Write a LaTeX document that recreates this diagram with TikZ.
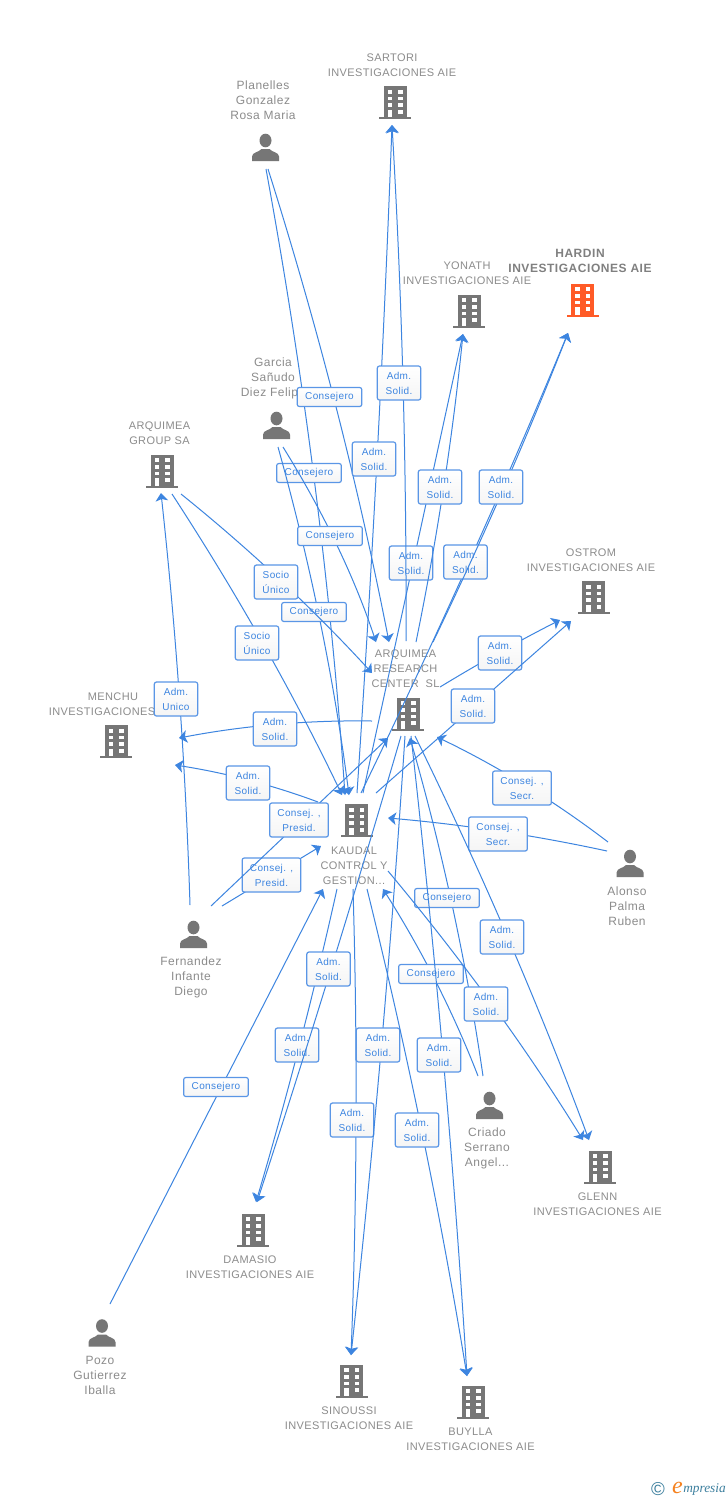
\documentclass[tikz,border=0pt]{standalone}
\usepackage{fontspec}
\usetikzlibrary{arrows.meta,calc}
\setmainfont{Liberation Sans}
\newfontfamily\entfont[LetterSpace=3.5]{Liberation Sans}
\newfontfamily\perfont[LetterSpace=4]{Liberation Sans}
\newfontfamily\boxfont[LetterSpace=3.8]{Liberation Sans}
\newfontfamily\hotfont[LetterSpace=4.5]{Liberation Sans Bold}
\newfontfamily\logofont{Liberation Serif Italic}
\definecolor{iconGrey}{HTML}{767676}
\definecolor{iconHot}{HTML}{FF5B27}
\definecolor{txtGrey}{HTML}{8C8C8C}
\definecolor{hotGrey}{HTML}{808080}
\definecolor{linkBlue}{HTML}{3D85E0}
\definecolor{boxBlue}{HTML}{5A96E6}
\definecolor{logoTeal}{HTML}{3C7F9E}
\definecolor{logoOrange}{HTML}{F58220}
\tikzset{
  conn/.style={draw=linkBlue,line width=0.75pt,-{Stealth[length=6pt,width=9.5pt,inset=1.5pt]}},
  tagbox/.style={draw=boxBlue,line width=0.9pt,rounded corners=1.6pt,top color=white,bottom color=black!4,
     text=linkBlue,inner sep=0pt,align=center,font=\boxfont\fontsize{7.5}{11.25}\selectfont},
  adm/.style={tagbox,minimum width=32.5pt,minimum height=25.5pt},
  cons/.style={tagbox,minimum width=48.5pt,minimum height=14.2pt},
  secr/.style={tagbox,minimum width=44pt,minimum height=25.5pt},
  entlabel/.style={text=txtGrey,inner sep=0pt,align=center,font=\entfont\fontsize{8.25}{11.25}\selectfont},
  hotlabel/.style={text=hotGrey,inner sep=0pt,align=center,font=\hotfont\fontsize{9}{11.25}\selectfont},
  perlabel/.style={text=txtGrey,inner sep=0pt,align=center,font=\perfont\fontsize{9}{11.25}\selectfont},
  iconspot/.style={inner sep=0pt,minimum width=24pt,minimum height=25pt},
  pics/building/.style={code={
    \fill[#1] (-11.5,-16.5) rectangle (11.5,14.5);
    \fill[#1] (-16,14.5) rectangle (16,16.5);
    \fill[white] (-7.5,-12.7) rectangle (-2.6,-9);
    \fill[white] (3,-12.7) rectangle (7.9,-9);
    \fill[white] (-7.5,-6) rectangle (-2.6,-2.3);
    \fill[white] (3,-6) rectangle (7.9,-2.3);
    \fill[white] (-7.5,0.6) rectangle (-2.6,4.4);
    \fill[white] (3,0.6) rectangle (7.9,4.4);
    \fill[white] (3,7.3) rectangle (7.9,11);
    \fill[white] (-7.5,7.3) rectangle (-2.6,14.5);
  }},
  pics/person/.style={code={
    \fill[#1] (0,-7) ellipse (6 and 6.8);
    \fill[#1] (-13.5,13.5) -- (-13.5,9) .. controls (-13,4.5) and (-7,5) .. (-4,1.5)
       -- (4,1.5) .. controls (7,5) and (13,4.5) .. (13.5,9) -- (13.5,13.5) -- cycle;
  }}
}
% #1 name, #2 start, #3 tag centre, #4 end, #5 tag style, #6 tag text, #7 point the curve passes through
\newcommand{\linkvia}[7]{%
  \coordinate (#1-s) at (#2);
  \coordinate (#1-m) at (#7);
  \coordinate (#1-t) at (#4);
  \draw[conn] (#1-s) .. controls ($(#1-m)!-0.3333!(#1-t)$) and ($(#1-m)!-0.3333!(#1-s)$) .. (#1-t);
  \node[#5] (#1) at (#3) {#6};
}
\newcommand{\bld}[4][iconGrey]{%
  \node[iconspot] (#2) at (#3,#4) {};
  \pic at (#2) {building=#1};
}
\newcommand{\psn}[3]{%
  \node[iconspot] (#1) at (#2,#3) {};
  \pic at (#1) {person=iconGrey};
}
\begin{document}
\begin{tikzpicture}[x=0.75pt,y=-0.75pt]
\useasboundingbox (0,0) rectangle (728,1500);
\fill[white] (0,0) rectangle (728,1500);

% entities
\bld{sartori}{395}{102.5}
\bld[iconHot]{hardin}{582.5}{300}
\bld{yonath}{469}{311}
\bld{group}{162}{471}
\bld{ostrom}{593.5}{597.5}
\bld{rc}{408}{714}
\bld{kaudal}{356.5}{820.5}
\bld{menchu}{116}{741.5}
\bld{glenn}{600}{1167}
\bld{damasio}{253}{1230}
\bld{sinoussi}{351.5}{1381}
\bld{buylla}{473}{1402}
\psn{planelles}{265.5}{147.5}
\psn{garcia}{276.5}{425.5}
\psn{alonso}{630}{863.5}
\psn{fernandez}{193.5}{934.5}
\psn{criado}{489.5}{1105.5}
\psn{pozo}{102}{1333}

\node[entlabel] (sartori-l) at (392,65.2) {SARTORI\\INVESTIGACIONES AIE};
\node[hotlabel] (hardin-l) at (580,261) {HARDIN\\INVESTIGACIONES AIE};
\node[entlabel] (yonath-l) at (467,273.2) {YONATH\\INVESTIGACIONES AIE};
\node[entlabel] (group-l) at (159.5,433) {ARQUIMEA\\GROUP SA};
\node[entlabel] (ostrom-l) at (591,560.2) {OSTROM\\INVESTIGACIONES AIE};
\node[entlabel] (rc-l) at (405.5,668.7) {ARQUIMEA\\RESEARCH\\CENTER\ \ SL};
\node[entlabel] (kaudal-l) at (354,865.7) {KAUDAL\\CONTROL Y\\GESTION...};
\node[entlabel] (menchu-l) at (113,704.2) {MENCHU\\INVESTIGACIONES AIE};
\node[entlabel] (glenn-l) at (597.5,1204.2) {GLENN\\INVESTIGACIONES AIE};
\node[entlabel] (damasio-l) at (250,1267.2) {DAMASIO\\INVESTIGACIONES AIE};
\node[entlabel] (sinoussi-l) at (349,1418.2) {SINOUSSI\\INVESTIGACIONES AIE};
\node[entlabel] (buylla-l) at (470.5,1439.2) {BUYLLA\\INVESTIGACIONES AIE};
\node[perlabel] (planelles-l) at (263,100) {Planelles\\Gonzalez\\Rosa Maria};
\node[perlabel] (garcia-l) at (273,378.5) {Garcia\\Sañudo\\Diez Felipe};
\node[perlabel] (alonso-l) at (627,906) {Alonso\\Palma\\Ruben};
\node[perlabel] (fernandez-l) at (191,977.5) {Fernandez\\Infante\\Diego};
\node[perlabel] (criado-l) at (487,1148.5) {Criado\\Serrano\\Angel...};
\node[perlabel] (pozo-l) at (100,1375) {Pozo\\Gutierrez\\Iballa};

% connectors, each with its tag, in stacking order
\linkvia{e01}{266,169}{309,473}{345,795}{cons}{Consejero}{314.5,482}
\linkvia{e02}{278,447}{314,612}{349,795}{cons}{Consejero}{320,621}
\linkvia{e03}{268,169}{329.5,397}{389,642}{cons}{Consejero}{335.5,405}
\linkvia{e04}{283,447}{330,536}{376,642}{cons}{Consejero}{336.5,544.5}
\linkvia{e05}{181,494}{276,582}{372,673}{adm}{Socio\\Único}{280,580}
\linkvia{e06}{172,494}{257,643}{342,795}{adm}{Socio\\Único}{263.5,644.5}
\linkvia{e07}{190,905}{176,699}{161,493}{adm}{Adm.\\Unico}{179.5,699}
\linkvia{e08}{372,721}{275,729}{179,738}{adm}{Adm.\\Solid.}{275.5,724.5}
\linkvia{e09}{318,802}{248,783}{175,765}{adm}{Adm.\\Solid.}{248,780}
\linkvia{e10}{222,906}{271.5,875}{321,846}{secr}{Consej. ,\\Presid.}{271.5,876}
\linkvia{e11}{211,906}{299,820}{388,738}{secr}{Consej. ,\\Presid.}{299.5,822}
\linkvia{e12}{357,793}{374,459}{392,125}{adm}{Adm.\\Solid.}{377,459}
\linkvia{e13}{363,793}{411,563}{463,334}{adm}{Adm.\\Solid.}{413,563.5}
\linkvia{e14}{406,641}{399,383}{392,125}{adm}{Adm.\\Solid.}{403,383}
\linkvia{e15}{416,642}{440,487}{463,334}{adm}{Adm.\\Solid.}{443.5,488}
\linkvia{e16}{361,793}{465.5,562}{568,333}{adm}{Adm.\\Solid.}{468.5,563}
\linkvia{e17}{433,642}{501,487}{568,333}{adm}{Adm.\\Solid.}{504,487.5}
\linkvia{e18}{440,687}{500,653}{560,620}{adm}{Adm.\\Solid.}{500,652}
\linkvia{e19}{376,793}{473,706}{571,621}{adm}{Adm.\\Solid.}{473.5,707}
\linkvia{e20}{608,842}{522,788}{437,737}{secr}{Consej. ,\\Secr.}{525,785}
\linkvia{e21}{607,851}{498,834}{388,818}{secr}{Consej. ,\\Secr.}{498,831}
\linkvia{e22}{110,1304}{216,1087}{323,889}{cons}{Consejero}{216.5,1096.5}
\linkvia{e23}{478,1076}{431,974}{383,889}{cons}{Consejero}{436,982}
\linkvia{e24}{483,1076}{447,898}{410,738}{cons}{Consejero}{452.5,907}
\linkvia{e25}{337,889}{297,1045}{256,1202}{adm}{Adm.\\Solid.}{299.5,1045}
\linkvia{e26}{401,736}{328.5,969}{257,1202}{adm}{Adm.\\Solid.}{331,969}
\linkvia{e27}{353,889}{352,1120}{351,1355}{adm}{Adm.\\Solid.}{356,1122}
\linkvia{e28}{405,736}{378,1045}{351,1355}{adm}{Adm.\\Solid.}{381.5,1045}
\linkvia{e29}{367,889}{417,1130}{467,1376}{adm}{Adm.\\Solid.}{422,1132}
\linkvia{e30}{388,871}{486,1004}{583,1140}{adm}{Adm.\\Solid.}{492.5,1005}
\linkvia{e31}{415,736}{502,937}{589,1140}{adm}{Adm.\\Solid.}{508,938}
\linkvia{e32}{411,736}{439,1055}{467,1376}{adm}{Adm.\\Solid.}{443,1056}

% logo
\node[text=logoTeal,inner sep=0pt,font=\fontsize{14}{14}\selectfont] (logo-c) at (658,1489) {©};
\node[text=logoOrange,inner sep=0pt,font=\logofont\fontsize{18}{18}\selectfont] (logo-e) at (677.5,1487.5) {e};
\node[text=logoTeal,inner sep=0pt,anchor=west,font=\logofont\fontsize{10}{12}\selectfont] (logo-m) at (683,1489) {mpresia};
\end{tikzpicture}
\end{document}
